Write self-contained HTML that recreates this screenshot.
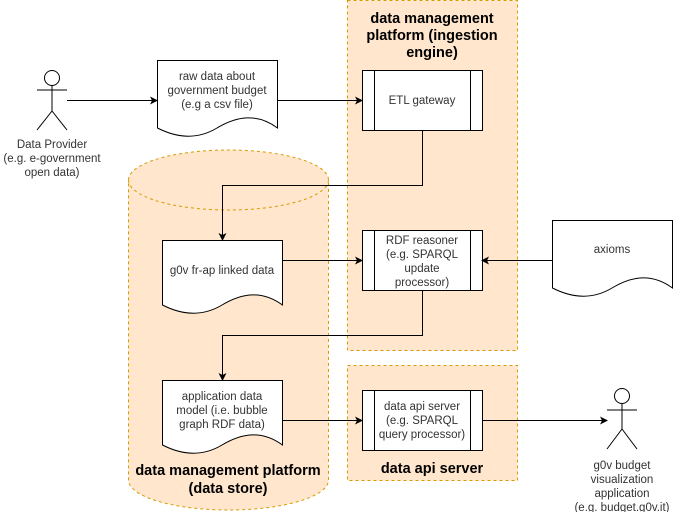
<!DOCTYPE html>
<html><head><style>body{margin:0;background:#fff}svg{display:block}text{font-family:"Liberation Sans",sans-serif;font-size:11.5px;fill:#333}</style></head>
<body>
<svg width="673" height="512" viewBox="0 0 673 512">
<defs><marker id="a" markerWidth="8" markerHeight="8" refX="7" refY="4" orient="auto" markerUnits="userSpaceOnUse"><path d="M0,0 L8,4 L0,8 L2,4z" fill="#000"/></marker></defs>
<rect x="347.5" y="0.5" width="170" height="350" fill="#ffe6cc" stroke="#d79b00" stroke-dasharray="3 3"/>
<rect x="347.5" y="365.5" width="170" height="115" fill="#ffe6cc" stroke="#d79b00" stroke-dasharray="3 3"/>
<path d="M128.5,180 A100,30 0 0 1 328.5,180 L328.5,480 A100,30 0 0 1 128.5,480 Z" fill="#ffe6cc" stroke="#d79b00" stroke-dasharray="3 3"/>
<path d="M128.5,180 A100,30 0 0 0 328.5,180" fill="none" stroke="#d79b00" stroke-dasharray="3 3"/>
<g text-anchor="middle">
<text x="432" y="23" style="font-size:14.5px;font-weight:bold;fill:#000">data management</text>
<text x="432" y="40" style="font-size:14.5px;font-weight:bold;fill:#000">platform (ingestion</text>
<text x="432" y="57" style="font-size:14.5px;font-weight:bold;fill:#000">engine)</text>
<text x="432" y="473" style="font-size:14.5px;font-weight:bold;fill:#000">data api server</text>
<text x="228" y="475" style="font-size:14.5px;font-weight:bold;fill:#000">data management platform</text>
<text x="228" y="493" style="font-size:14.5px;font-weight:bold;fill:#000">(data store)</text>
</g>
<g stroke="#000" fill="#fff">
<circle cx="52" cy="78" r="7.5"/>
<path d="M52,86V111M37,90H67M52,111L37,130M52,111L67,130" fill="none"/>
<circle cx="622" cy="396" r="7.5"/>
<path d="M622,404V429M607,410H637M622,429L607,449M622,429L637,449" fill="none"/>
</g>
<g text-anchor="middle">
<text x="52" y="148">Data Provider</text><text x="52" y="162">(e.g. e-government</text><text x="52" y="176">open data)</text>
<text x="622" y="469">g0v budget</text><text x="622" y="483">visualization</text><text x="622" y="497">application</text><text x="622" y="511">(e.g. budget.g0v.it)</text>
</g>
<g fill="#fff" stroke="#000">
<path d="M157.5,60.5H277.5V128 C257,113 237,116 217,128 C197,140 177,138 157.5,128Z"/>
<path d="M162.5,240.5H282.5V305 C262,290 242,293 222,305 C202,317 182,315 162.5,305Z"/>
<path d="M162.5,380.5H282.5V445 C262,430 242,433 222,445 C202,457 182,455 162.5,445Z"/>
<path d="M552.5,220.5H672.5V288 C652,273 632,276 612,288 C592,300 572,298 552.5,288Z"/>
<rect x="362.5" y="70.5" width="120" height="60"/><path d="M374.5,70.5V130.5M470.5,70.5V130.5"/>
<rect x="362.5" y="230.5" width="120" height="60"/><path d="M374.5,230.5V290.5M470.5,230.5V290.5"/>
<rect x="362.5" y="390.5" width="120" height="60"/><path d="M374.5,390.5V450.5M470.5,390.5V450.5"/>
</g>
<g text-anchor="middle">
<text x="217" y="80">raw data about</text><text x="217" y="94">government budget</text><text x="217" y="108">(e.g a csv file)</text>
<text x="222" y="274">g0v fr-ap linked data</text>
<text x="222" y="400">application data</text><text x="222" y="414">model (i.e. bubble</text><text x="222" y="428">graph  RDF data)</text>
<text x="612" y="253">axioms</text>
<text x="422" y="104">ETL gateway</text>
<text x="422" y="244">RDF reasoner</text><text x="422" y="258">(e.g. SPARQL</text><text x="422" y="272">update</text><text x="422" y="286">processor)</text>
<text x="422" y="410">data api server</text><text x="422" y="424">(e.g. SPARQL</text><text x="422" y="438">query processor)</text>
</g>
<g stroke="#000" fill="none" marker-end="url(#a)">
<path d="M67,100.5H157"/>
<path d="M277,100.5H362"/>
<path d="M422.5,130V185.5H222.5V240"/>
<path d="M282,260.5H362"/>
<path d="M552,260.5H482"/>
<path d="M422.5,290V335.5H222.5V380"/>
<path d="M282,420.5H362"/>
<path d="M482,420.5H607"/>
</g>
</svg>
</body></html>
